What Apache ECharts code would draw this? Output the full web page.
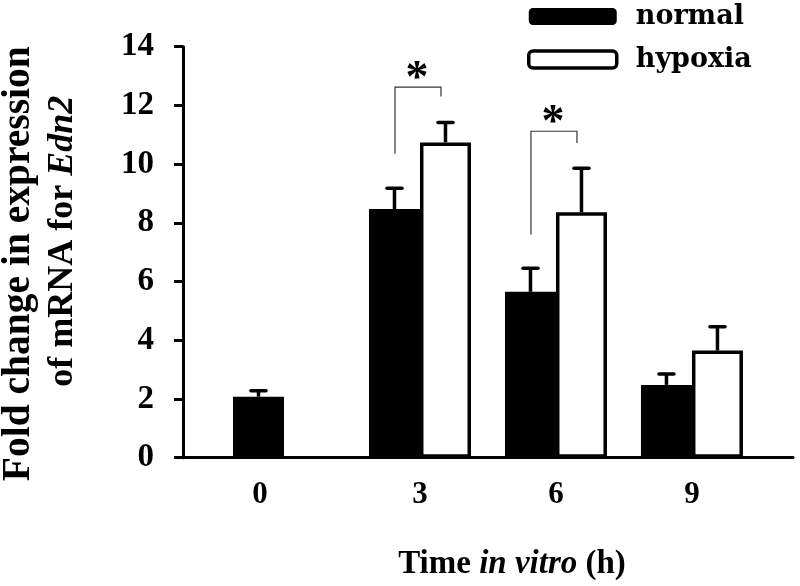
<!DOCTYPE html>
<html><head><meta charset="utf-8">
<script src="https://cdn.jsdelivr.net/npm/echarts@6/dist/echarts.min.js"></script>
<style>html,body{margin:0;padding:0;background:#fff}#c{width:800px;height:586px}</style>
</head><body><div id="c"></div>
<script>
// ---- data ----
const hours = [0, 3, 6, 9];
const tickLabels = ['0', '3', '6', '9'];
const normalMean = [2.08, 8.47, 5.65, 2.48];
const normalSE = [0.2, 0.71, 0.8, 0.37];
const hypoxiaHours = [3, 6, 9];
const hypoxiaMean = [10.74, 8.36, 3.65];
const hypoxiaSE = [0.68, 1.5, 0.81];
const sigHours = [3, 6];
const sigTop = [12.62, 11.12];
const sigLeftBottom = [10.35, 7.6];
const sigRightBottom = [12.3, 10.72];
const seriesNames = ['normal', 'hypoxia'];

// ---- styling ----
const SERIF = '"Liberation Serif","Times New Roman",serif';
const BAR_W = 51;

function errRender(side) {
  return function (params, api) {
    const x = api.value(0), m = api.value(1), e = api.value(2);
    const p0 = api.coord([x, m]);
    const p1 = api.coord([x, m + e]);
    const cx = p0[0] + side * BAR_W / 2;
    return {
      type: 'group', children: [
        { type: 'line', shape: { x1: cx, y1: p0[1], x2: cx, y2: p1[1] }, style: { stroke: '#000', lineWidth: 3.5 } },
        { type: 'line', shape: { x1: cx - 7.5, y1: p1[1], x2: cx + 7.5, y2: p1[1] }, style: { stroke: '#000', lineWidth: 3.5, lineCap: 'round' } }
      ]
    };
  };
}

function sigRender(params, api) {
  const x = api.value(0), t = api.value(1), lb = api.value(2), rb = api.value(3);
  const c = api.coord([x, t]);
  const xl = c[0] - 25, xr = c[0] + 21;
  const yl = api.coord([x, lb])[1], yr = api.coord([x, rb])[1];
  return {
    type: 'group', children: [
      { type: 'polyline', shape: { points: [[xl, yl], [xl, c[1]], [xr, c[1]], [xr, yr]] },
        style: { stroke: '#333', lineWidth: 1.2, fill: null } },
      { type: 'text', x: c[0] - 3, y: c[1] - 7,
        style: { text: '*', font: 'bold 46px ' + SERIF, fill: '#000', align: 'center', verticalAlign: 'middle' } }
    ]
  };
}

const chart = echarts.init(document.getElementById('c'), null, { renderer: 'canvas' });
chart.setOption({
  backgroundColor: '#fff',
  animation: false,
  grid: { left: 183, right: 7, top: 46.7, bottom: 128.3, containLabel: false, outerBoundsMode: 'none' },
  legend: {
    orient: 'vertical', left: 527, top: 3, padding: 0, itemWidth: 88, itemHeight: 17, itemGap: 16,
    selectedMode: false,
    data: [
      { name: seriesNames[0], icon: 'roundRect', itemStyle: { color: '#000', borderWidth: 0 } },
      { name: seriesNames[1], icon: 'roundRect', itemStyle: { color: '#fff', borderColor: '#000', borderWidth: 3.5 } }
    ],
    textStyle: { fontFamily: '"DejaVu Serif",serif', fontWeight: 'bold', fontSize: 27, color: '#000', lineHeight: 17, padding: [0, 0, 0, 14] }
  },
  xAxis: {
    type: 'value', min: -2.228, max: 11.229,
    axisLine: { show: true, onZero: false, lineStyle: { color: '#000', width: 3 } },
    axisTick: { show: false },
    splitLine: { show: false },
    axisLabel: {
      customValues: hours, margin: 22, color: '#000', fontFamily: SERIF, fontWeight: 'bold', fontSize: 31,
      formatter: function (v) {
        const i = hours.indexOf(v);
        const t = i >= 0 ? tickLabels[i] : '';
        return i === 0 ? '{s|' + t + '}' : t;
      },
      rich: { s: { fontFamily: SERIF, fontWeight: 'bold', fontSize: 31, color: '#000', padding: [0, 48, 0, 0] } }
    },
    name: 'Time {i|in vitro} (h)', nameLocation: 'middle', nameGap: 90,
    nameTextStyle: {
      fontFamily: SERIF, fontWeight: 'bold', fontSize: 33, color: '#000', padding: [0, 0, 0, 48],
      rich: { i: { fontFamily: SERIF, fontWeight: 'bold', fontStyle: 'italic', fontSize: 33, color: '#000' } }
    }
  },
  yAxis: {
    type: 'value', min: 0, max: 14, interval: 2,
    axisLine: { show: true, onZero: false, lineStyle: { color: '#000', width: 3 } },
    axisTick: { show: true, length: 9, lineStyle: { color: '#000', width: 3 } },
    splitLine: { show: false },
    axisLabel: { margin: 29, color: '#000', fontFamily: SERIF, fontWeight: 'bold', fontSize: 33 },
    name: '{a|Fold change in expression}\n{b|of mRNA for }{bi|Edn2}', nameLocation: 'middle', nameRotate: 90, nameGap: 98,
    nameTextStyle: {
      fontFamily: SERIF, fontWeight: 'bold', fontSize: 38, lineHeight: 44, color: '#000', align: 'center',
      rich: {
        a: { fontFamily: SERIF, fontWeight: 'bold', fontSize: 39.5, lineHeight: 44, color: '#000', padding: [0, 23, 0, 0] },
        b: { fontFamily: SERIF, fontWeight: 'bold', fontSize: 36, lineHeight: 44, color: '#000', padding: [0, 0, 0, 22] },
        bi: { fontFamily: SERIF, fontWeight: 'bold', fontStyle: 'italic', fontSize: 36, lineHeight: 44, color: '#000' }
      }
    }
  },
  series: [
    {
      name: seriesNames[0], type: 'bar', barWidth: BAR_W, barGap: '0%',
      itemStyle: { color: '#000' },
      data: hours.map((h, i) => [h, normalMean[i]])
    },
    {
      name: seriesNames[1], type: 'bar', barWidth: BAR_W, barGap: '0%',
      itemStyle: { color: '#fff', borderColor: '#000', borderWidth: 3.5 },
      data: hypoxiaHours.map((h, i) => [h, hypoxiaMean[i]])
    },
    {
      type: 'custom', renderItem: errRender(-1), z: 3,
      data: hours.map((h, i) => [h, normalMean[i], normalSE[i]])
    },
    {
      type: 'custom', renderItem: errRender(1), z: 3,
      data: hypoxiaHours.map((h, i) => [h, hypoxiaMean[i], hypoxiaSE[i]])
    },
    {
      type: 'custom', renderItem: sigRender, z: 3,
      data: sigHours.map((h, i) => [h, sigTop[i], sigLeftBottom[i], sigRightBottom[i]])
    }
  ]
});
</script></body></html>
